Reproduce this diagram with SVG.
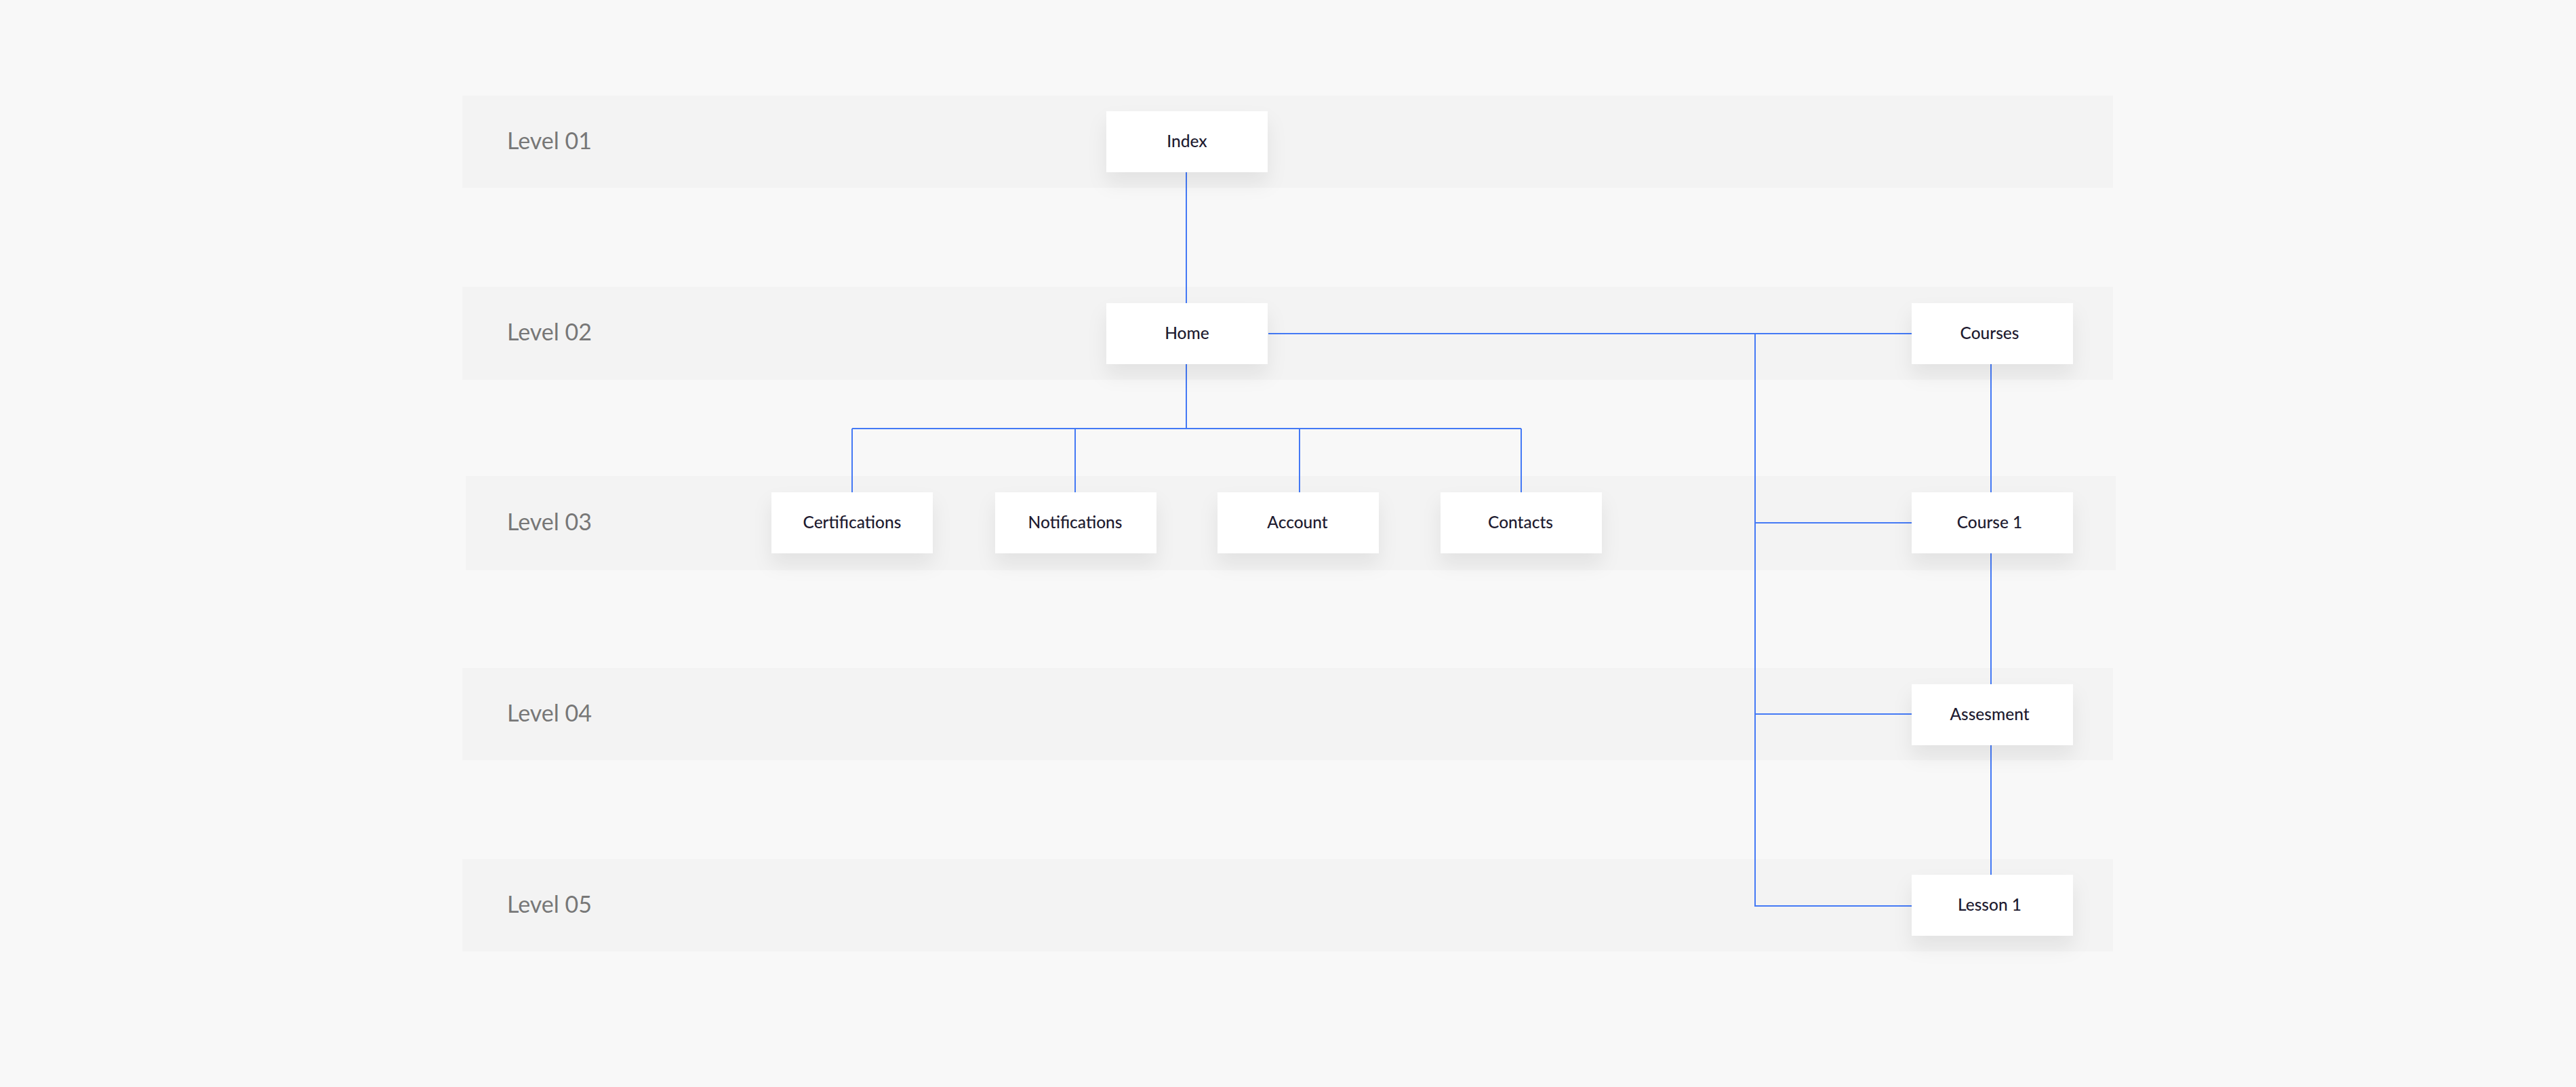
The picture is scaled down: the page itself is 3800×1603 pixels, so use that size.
<svg xmlns="http://www.w3.org/2000/svg" width="3800" height="1603" viewBox="0 0 3800 1603">
  <defs>
    <filter id="shadow" x="-30%" y="-40%" width="160%" height="200%">
      <feDropShadow dx="0" dy="16" stdDeviation="14" flood-color="#000000" flood-opacity="0.07"/>
    </filter>
  </defs>
  <style>
    .band { fill: #f3f3f3; }
    .lvl { font-family: "Lato", "Open Sans", "Liberation Sans", sans-serif; font-size: 34px; fill: #777777; }
    .box { fill: #ffffff; filter: url(#shadow); }
    .lbl { font-family: "Lato", "Noto Sans", "Liberation Sans", sans-serif; font-size: 24.5px; font-weight: 500; fill: #1e1b30; text-anchor: middle; }
    .conn { stroke: #4479f5; stroke-width: 2; fill: none; }
  </style>
  <rect width="3800" height="1603" fill="#f8f8f8"/>

  <g id="bands">
    <rect class="band" x="682" y="141" width="2435" height="136"/>
    <rect class="band" x="682" y="423" width="2435" height="137"/>
    <rect class="band" x="687" y="702" width="2434" height="139"/>
    <rect class="band" x="682" y="985" width="2435" height="136"/>
    <rect class="band" x="682" y="1267" width="2435" height="136"/>
    <text class="lvl" x="748" y="220">Level 01</text>
    <text class="lvl" x="748" y="502">Level 02</text>
    <text class="lvl" x="748" y="782">Level 03</text>
    <text class="lvl" x="748" y="1064">Level 04</text>
    <text class="lvl" x="748" y="1346">Level 05</text>
  </g>

  <g id="connectors">
    <line class="conn" x1="1750" y1="254" x2="1750" y2="447"/>
    <line class="conn" x1="1750" y1="537" x2="1750" y2="632"/>
    <line class="conn" x1="1257" y1="632" x2="2244" y2="632"/>
    <line class="conn" x1="1257" y1="632" x2="1257" y2="726"/>
    <line class="conn" x1="1586" y1="632" x2="1586" y2="726"/>
    <line class="conn" x1="1917" y1="632" x2="1917" y2="726"/>
    <line class="conn" x1="2244" y1="632" x2="2244" y2="726"/>
    <line class="conn" x1="1871" y1="492" x2="2820" y2="492"/>
    <polyline class="conn" points="2589,492 2589,1336 2820,1336"/>
    <line class="conn" x1="2589" y1="771" x2="2820" y2="771"/>
    <line class="conn" x1="2589" y1="1053" x2="2820" y2="1053"/>
    <line class="conn" x1="2937" y1="537" x2="2937" y2="726"/>
    <line class="conn" x1="2937" y1="816" x2="2937" y2="1009"/>
    <line class="conn" x1="2937" y1="1099" x2="2937" y2="1290"/>
  </g>

  <g id="node-index">
    <rect class="box" x="1632" y="164" width="238" height="90"/>
    <text class="lbl" x="1751" y="217">Index</text>
  </g>
  <g id="node-home">
    <rect class="box" x="1632" y="447" width="238" height="90"/>
    <text class="lbl" x="1751" y="500">Home</text>
  </g>
  <g id="node-courses">
    <rect class="box" x="2820" y="447" width="238" height="90"/>
    <text class="lbl" x="2935" y="500">Courses</text>
  </g>
  <g id="node-certifications">
    <rect class="box" x="1138" y="726" width="238" height="90"/>
    <text class="lbl" x="1257" y="779">Certifications</text>
  </g>
  <g id="node-notifications">
    <rect class="box" x="1468" y="726" width="238" height="90"/>
    <text class="lbl" x="1586" y="779">Notifications</text>
  </g>
  <g id="node-account">
    <rect class="box" x="1796" y="726" width="238" height="90"/>
    <text class="lbl" x="1914" y="779">Account</text>
  </g>
  <g id="node-contacts">
    <rect class="box" x="2125" y="726" width="238" height="90"/>
    <text class="lbl" x="2243" y="779">Contacts</text>
  </g>
  <g id="node-course1">
    <rect class="box" x="2820" y="726" width="238" height="90"/>
    <text class="lbl" x="2935" y="779">Course 1</text>
  </g>
  <g id="node-assesment">
    <rect class="box" x="2820" y="1009" width="238" height="90"/>
    <text class="lbl" x="2935" y="1062">Assesment</text>
  </g>
  <g id="node-lesson1">
    <rect class="box" x="2820" y="1290" width="238" height="90"/>
    <text class="lbl" x="2935" y="1343">Lesson 1</text>
  </g>
</svg>
